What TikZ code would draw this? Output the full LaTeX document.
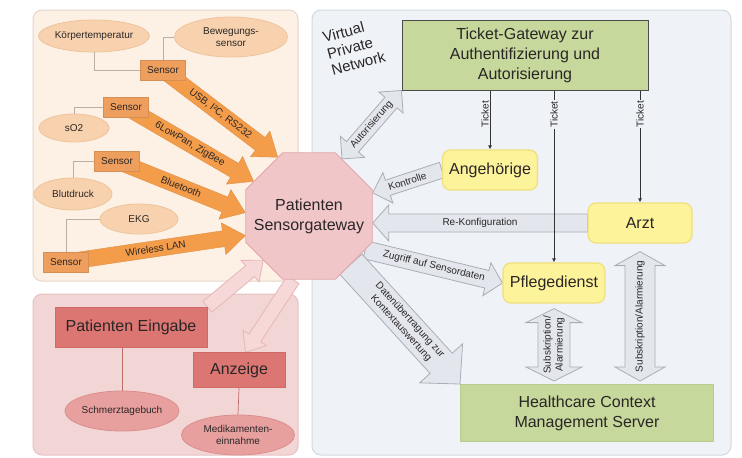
\documentclass[tikz,border=0pt]{standalone}
\usepackage{fontspec}
\setmainfont{Liberation Sans}
\usetikzlibrary{calc,shapes.geometric,arrows.meta}

\definecolor{textdark}{HTML}{2A2626}
\definecolor{sensorpanel}{HTML}{FDF0E4}
\definecolor{sensorpanelline}{HTML}{E6D6CA}
\definecolor{ellorange}{HTML}{F8D2AE}
\definecolor{ellorangeline}{HTML}{EEC49C}
\definecolor{sensororange}{HTML}{EE9F5E}
\definecolor{arroworange}{HTML}{F39C4A}
\definecolor{gatewaypink}{HTML}{F1C6C8}
\definecolor{gatewaypinkline}{HTML}{E2A8AA}
\definecolor{inputpanel}{HTML}{F2D5D5}
\definecolor{inputpanelline}{HTML}{E8C2C2}
\definecolor{inputred}{HTML}{DB7673}
\definecolor{inputredline}{HTML}{CF6A67}
\definecolor{pinkell}{HTML}{E8A09E}
\definecolor{pinkellline}{HTML}{D98E8C}
\definecolor{pinkarrow}{HTML}{F6D8D8}
\definecolor{pinkarrowline}{HTML}{E9B9B9}
\definecolor{vpnfill}{HTML}{EFF2F7}
\definecolor{vpnline}{HTML}{D4D9E1}
\definecolor{grayarrow}{HTML}{E3E7ED}
\definecolor{grayarrowline}{HTML}{A9AEB6}
\definecolor{roleyellow}{HTML}{FDF39B}
\definecolor{roleyellowline}{HTML}{F0E07C}
\definecolor{servergreen}{HTML}{C6D89B}
\definecolor{servergreenline}{HTML}{B9CC8E}
\definecolor{linkgray}{HTML}{B8AFA6}

\newcommand{\bigtxt}{\fontsize{16}{20}\selectfont}
\newcommand{\smalltxt}{\fontsize{10}{12}\selectfont}
\newcommand{\vpntxt}{\fontsize{15}{17}\selectfont}

\pgfdeclarelayer{panels}
\pgfdeclarelayer{flows}
\pgfsetlayers{panels,flows,main}

% block arrow: style, from, to, shaft half width, head half width, head length, label
\newcommand{\blockarrow}[7]{%
  \coordinate (ba-a) at (#2);
  \coordinate (ba-b) at (#3);
  \coordinate (ba-h) at ($(ba-b)!#6!(ba-a)$);
  \draw[#1] ($(ba-a)!#4!90:(ba-b)$) -- ($(ba-h)!#4!90:(ba-b)$)
    -- ($(ba-h)!#5!90:(ba-b)$) -- (ba-b) -- ($(ba-h)!#5!-90:(ba-b)$)
    -- ($(ba-h)!#4!-90:(ba-b)$) -- ($(ba-a)!#4!-90:(ba-b)$) -- cycle;
  \if\relax\detokenize{#7}\relax\else
    \path (ba-a) -- (ba-b) node[midway, sloped, flowlabel] {#7};
  \fi
}
% block arrow with a head at both ends
\newcommand{\dblockarrow}[7]{%
  \coordinate (ba-a) at (#2);
  \coordinate (ba-b) at (#3);
  \coordinate (ba-h) at ($(ba-b)!#6!(ba-a)$);
  \coordinate (ba-g) at ($(ba-a)!#6!(ba-b)$);
  \draw[#1] (ba-a) -- ($(ba-g)!#5!90:(ba-b)$) -- ($(ba-g)!#4!90:(ba-b)$)
    -- ($(ba-h)!#4!90:(ba-b)$) -- ($(ba-h)!#5!90:(ba-b)$) -- (ba-b)
    -- ($(ba-h)!#5!-90:(ba-b)$) -- ($(ba-h)!#4!-90:(ba-b)$)
    -- ($(ba-g)!#4!-90:(ba-b)$) -- ($(ba-g)!#5!-90:(ba-b)$) -- cycle;
  \if\relax\detokenize{#7}\relax\else
    \path (ba-a) -- (ba-b) node[midway, sloped, flowlabel] {#7};
  \fi
}

\tikzset{
  every node/.style={text=textdark},
  flowlabel/.style={font=\smalltxt, inner sep=1pt, align=center},
  orangeflow/.style={fill=arroworange, draw=arroworange!92!black, line width=0.4pt},
  pinkflow/.style={fill=pinkarrow, draw=pinkarrowline, line width=0.9pt},
  grayflow/.style={fill=grayarrow, draw=grayarrowline, line width=0.8pt},
  sensorbox/.style={rectangle, fill=sensororange, draw=sensororange!90!black, line width=0.4pt,
    minimum width=45pt, minimum height=20pt, inner sep=0pt, font=\smalltxt},
  sensorell/.style={ellipse, fill=ellorange, draw=ellorangeline, line width=0.8pt,
    inner sep=0pt, font=\smalltxt, align=center},
  gatewaynode/.style={regular polygon, regular polygon sides=8, minimum size=137pt,
    inner sep=0pt, fill=gatewaypink, draw=gatewaypinkline, line width=0.8pt,
    font=\bigtxt, align=center},
  inputbox/.style={rectangle, fill=inputred, draw=inputredline, line width=0.6pt,
    inner sep=0pt, font=\bigtxt},
  inputell/.style={ellipse, fill=pinkell, draw=pinkellline, line width=0.8pt,
    inner sep=0pt, font=\smalltxt, align=center},
  rolebox/.style={rectangle, rounded corners=8pt, fill=roleyellow, draw=roleyellowline,
    line width=1.2pt, inner sep=0pt, font=\bigtxt},
  serverbox/.style={rectangle, fill=servergreen, inner sep=0pt, font=\bigtxt, align=center},
  sensorlink/.style={draw=linkgray, line width=0.7pt},
  inputlink/.style={draw=inputredline!80!gray, line width=0.7pt},
  ticketline/.style={draw=black!80, line width=0.8pt, -{Latex[length=4pt,width=4pt]}},
  ticketlabel/.style={font=\smalltxt, inner sep=1pt},
}

\begin{document}
\begin{tikzpicture}[x=1pt,y=-1pt]
\useasboundingbox (0,0) rectangle (742,458);

% ---------- panels ----------
\begin{pgfonlayer}{panels}
  \fill[white] (0,0) rectangle (742,458);
  \draw[fill=sensorpanel, draw=sensorpanelline, line width=1pt, rounded corners=9pt]
    (33,10) rectangle (298,281);
  \draw[fill=inputpanel, draw=inputpanelline, line width=1pt, rounded corners=9pt]
    (33,294) rectangle (298,455);
  \draw[fill=vpnfill, draw=vpnline, line width=1pt, rounded corners=9pt]
    (312,10) rectangle (731,455);
\end{pgfonlayer}

% ---------- sensors ----------
\node[sensorell, minimum width=110pt, minimum height=32pt] (kt) at (94,36) {Körpertemperatur};
\node[sensorell, minimum width=113pt, minimum height=40pt] (bw) at (231,37) {Bewegungs-\\sensor};
\node[sensorbox] (s1) at (163,70) {Sensor};
\node[sensorbox] (s2) at (126,107) {Sensor};
\node[sensorell, minimum width=70pt, minimum height=28pt] (so2) at (74,128) {sO2};
\node[sensorbox] (s3) at (117,161) {Sensor};
\node[sensorell, minimum width=78pt, minimum height=32pt] (bd) at (73,194) {Blutdruck};
\node[sensorell, minimum width=78pt, minimum height=30pt] (ekg) at (139,219) {EKG};
\node[sensorbox] (s4) at (66,262) {Sensor};

\draw[sensorlink] (kt.south) |- (s1.west);
\draw[sensorlink] (s1.north) |- (bw.west);
\draw[sensorlink] (so2.north) |- (s2.west);
\draw[sensorlink] (bd.north) |- (s3.west);
\draw[sensorlink] (ekg.west) -| (s4.north);

% ---------- gateway (text lines kept zero-width so the octagon keeps its size) ----------
\node[gatewaynode] (pg) at (309,216) {\makebox[0pt]{Patienten}\\\makebox[0pt]{Sensorgateway}};

% ---------- patient input ----------
\node[inputbox, minimum width=152pt, minimum height=40pt] (pe) at (131,327) {Patienten Eingabe};
\node[inputbox, minimum width=92pt, minimum height=35pt] (anz) at (239,370) {Anzeige};
\node[inputell, minimum width=113pt, minimum height=40pt] (st) at (122,411) {Schmerztagebuch};
\node[inputell, minimum width=113pt, minimum height=40pt] (med) at (238,435) {Medikamenten-\\einnahme};
\draw[inputlink] (st.north |- pe.south) -- (st.north);
\draw[inputlink] (anz.south) -- (med.north);

% ---------- virtual private network ----------
\node[rotate=15, align=left, font=\vpntxt, inner sep=0pt] (vpn) at (354,47) {Virtual\\Private\\Network};
\node[serverbox, draw=black!70, line width=1pt, minimum width=246pt, minimum height=70pt]
  (gw) at (525,55) {Ticket-Gateway zur\\Authentifizierung und\\Autorisierung};
\node[rolebox, minimum width=95pt, minimum height=40pt] (ang) at (490,170) {Angehörige};
\node[rolebox, minimum width=104pt, minimum height=40pt] (arzt) at (640,223) {Arzt};
\node[rolebox, minimum width=102pt, minimum height=40pt] (pfl) at (554,283) {Pflegedienst};
\node[serverbox, draw=servergreenline, line width=1pt, minimum width=253pt, minimum height=57pt]
  (hc) at (587,413) {Healthcare Context\\Management Server};

% ---------- data flows ----------
\begin{pgfonlayer}{flows}
  \blockarrow{orangeflow}{s1}{pg.118}{8pt}{16pt}{22pt}{USB, I²C, RS232}
  \blockarrow{orangeflow}{s2}{pg.148}{8pt}{16pt}{22pt}{6LowPan, ZigBee}
  \blockarrow{orangeflow}{s3}{pg.177}{8pt}{16pt}{22pt}{Bluetooth}
  \blockarrow{orangeflow}{s4}{pg.197}{8pt}{16pt}{22pt}{Wireless LAN}

  \blockarrow{pinkflow}{pe.north east}{pg.224}{7pt}{14pt}{17pt}{}
  \blockarrow{pinkflow}{pg.256}{anz.70}{7pt}{14pt}{17pt}{}

  \dblockarrow{grayflow}{pg.60}{gw.south west}{8pt}{16pt}{16pt}{Autorisierung}
  \blockarrow{grayflow}{ang.west}{pg.20}{8pt}{16pt}{16pt}{Kontrolle}
  \blockarrow{grayflow}{arzt.west}{pg.east |- arzt.west}{9pt}{18pt}{16pt}{Re-Konfiguration}
  \blockarrow{grayflow}{pg.329}{pfl.west}{9pt}{17pt}{16pt}{Zugriff auf Sensordaten}
  \blockarrow{grayflow}{pg.311}{hc.north west}{15pt}{29pt}{28pt}{Datenübertragung zur\\Kontextauswertung}
  \dblockarrow{grayflow}{$(hc.north -| pfl.south)+(0,-3)$}{$(pfl.south)+(0,5)$}{16pt}{28pt}{14pt}{Subskription/\\Alarmierung}
  \dblockarrow{grayflow}{$(hc.north -| arzt.south)+(0,-3)$}{$(arzt.south)+(0,8)$}{15pt}{25pt}{14pt}{Subskription/Alarmierung}
\end{pgfonlayer}

% ---------- tickets ----------
\draw[ticketline] (ang.north |- gw.south) -- (ang.north)
  node[pos=0.4, rotate=90, anchor=south, ticketlabel] {Ticket};
\draw[ticketline] (pfl.north |- gw.south) -- (pfl.north)
  node[pos=0.14, rotate=90, ticketlabel, fill=vpnfill] {Ticket};
\draw[ticketline] (arzt.north |- gw.south) -- (arzt.north)
  node[pos=0.21, rotate=90, ticketlabel, fill=vpnfill] {Ticket};
\end{tikzpicture}
\end{document}
